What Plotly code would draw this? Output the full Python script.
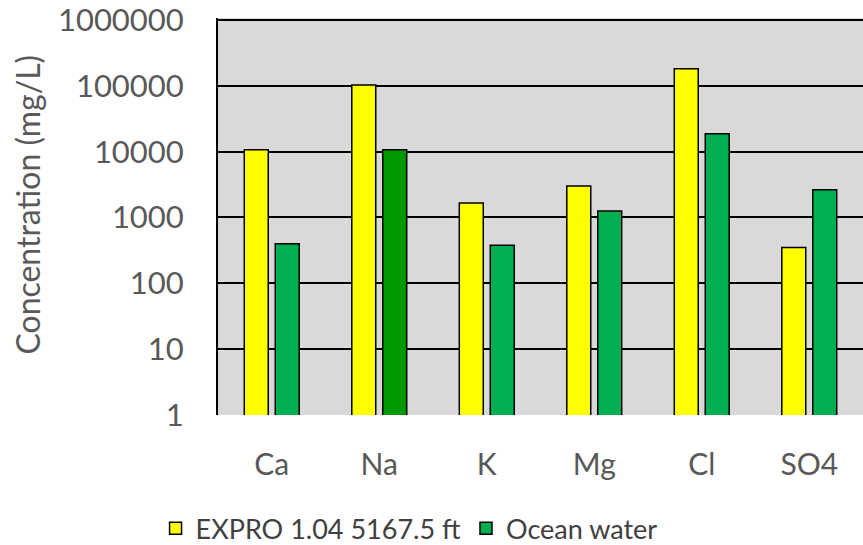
import plotly.graph_objects as go

categories = ["Ca", "Na", "K", "Mg", "Cl", "SO4"]
expro_values = [10700, 103000, 1660, 3000, 182000, 350]
ocean_values = [400, 10700, 380, 1250, 18700, 2630]
ocean_colors = ["#00B050", "#009900", "#00B050", "#00B050", "#00B050", "#00B050"]
y_tickvals = [1, 10, 100, 1000, 10000, 100000, 1000000]
y_ticktext = ["1", "10", "100", "1000", "10000", "100000", "1000000"]

FONT = "Lato"
GRAY = "#595959"

fig = go.Figure()
fig.add_trace(go.Bar(
    x=categories, y=expro_values, name="EXPRO 1.04 5167.5 ft",
    marker=dict(color="#FFFF00", line=dict(color="black", width=1.5)),
))
fig.add_trace(go.Bar(
    x=categories, y=ocean_values, name="Ocean water",
    marker=dict(color=ocean_colors, line=dict(color="black", width=1.5)),
))

fig.update_layout(
    width=863, height=545,
    margin=dict(l=218, r=0, t=18, b=130, autoexpand=False),
    paper_bgcolor="white",
    plot_bgcolor="#D9D9D9",
    barmode="group",
    bargap=0.424,
    bargroupgap=0.226,
    font=dict(family=FONT, color=GRAY, size=30),
    showlegend=True,
    legend=dict(
        orientation="h", xref="container", yref="container",
        x=0.474, y=0.03, xanchor="center", yanchor="middle",
        font=dict(size=27, color="#404040"),
        itemwidth=30, traceorder="normal",
    ),
    xaxis=dict(
        showgrid=False, showline=False, zeroline=False, automargin=False,
        ticks="", tickfont=dict(size=30, color=GRAY),
        ticklabelstandoff=29,
    ),
    yaxis=dict(
        type="log", range=[-0.0001, 6.03], automargin=False,
        tickvals=y_tickvals, ticktext=y_ticktext,
        showgrid=True, gridcolor="black", gridwidth=2,
        showline=True, linecolor="black", linewidth=2,
        zeroline=False, ticks="",
        tickfont=dict(size=31, color=GRAY),
        ticklabelstandoff=26,
        ticklabeloverflow="allow",
    ),
    annotations=[dict(
        text="Concentration (mg/L)", xref="paper", yref="paper",
        x=-0.2946, y=0.53, xanchor="center", yanchor="middle",
        textangle=-90, showarrow=False,
        font=dict(size=32, color=GRAY),
    )],
)

fig.write_html(
    "out.html",
    config={"displayModeBar": False},
    post_script="document.body.style.margin='0';document.body.style.padding='0';",
)
